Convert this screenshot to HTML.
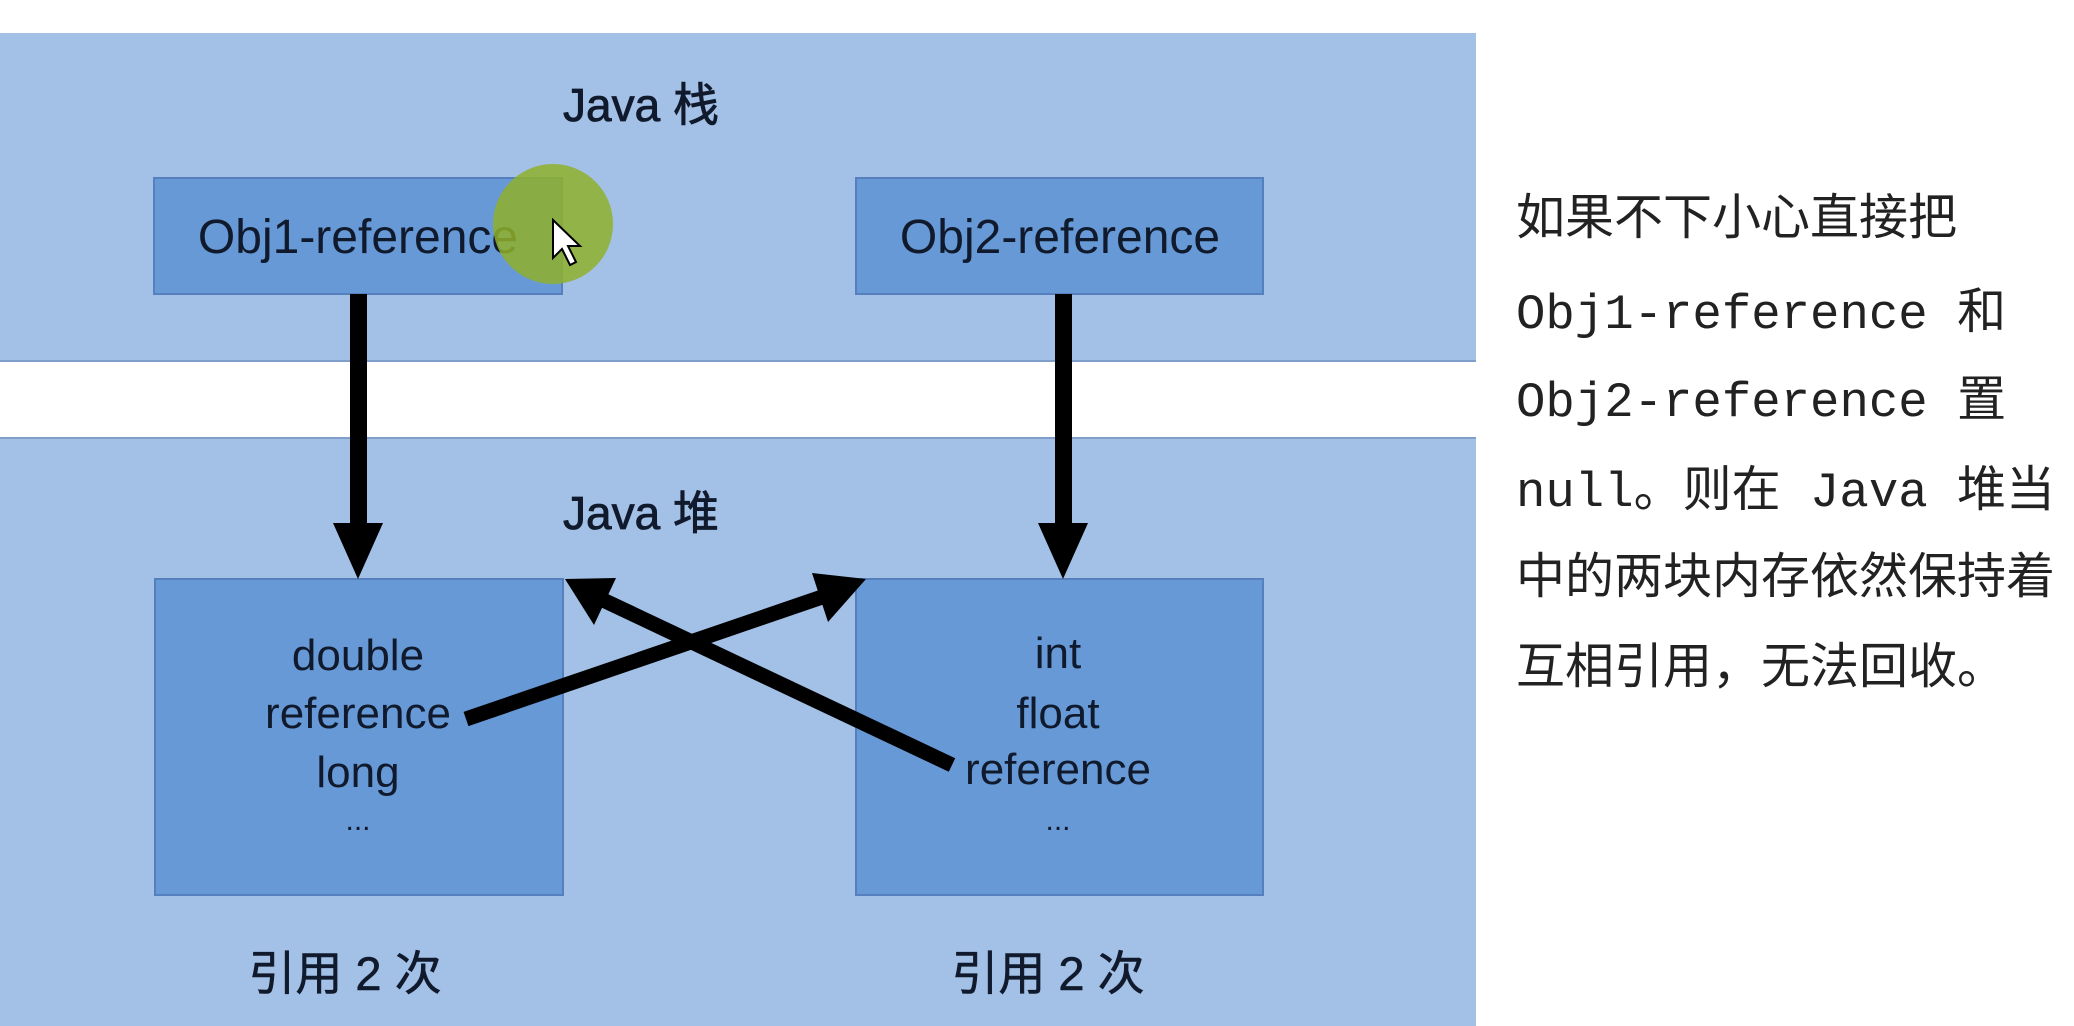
<!DOCTYPE html>
<html><head><meta charset="utf-8"><style>
html,body{margin:0;padding:0;background:#fff;}
svg{display:block;}
.s{font-family:"Liberation Sans","Noto Sans CJK SC",sans-serif;fill:#101a2c;}
.m{font-family:"Liberation Mono","Noto Sans CJK SC",monospace;font-size:49px;fill:#222;}
</style></head><body>
<svg width="2074" height="1026" viewBox="0 0 2074 1026" xmlns="http://www.w3.org/2000/svg">
<rect x="0" y="0" width="2074" height="1026" fill="#fff"/>
<rect x="0" y="33" width="1476" height="328" fill="#a3c0e6"/>
<line x1="0" y1="361" x2="1476" y2="361" stroke="#7f9fca" stroke-width="2"/>
<rect x="0" y="438" width="1476" height="588" fill="#a3c0e6"/>
<line x1="0" y1="438" x2="1476" y2="438" stroke="#7f9fca" stroke-width="2"/>

<text class="s" x="641" y="121" font-size="46" text-anchor="middle" stroke="#101a2c" stroke-width="0.8">Java 栈</text>
<text class="s" x="641" y="529" font-size="46" text-anchor="middle" stroke="#101a2c" stroke-width="0.8">Java 堆</text>

<rect x="154" y="178" width="408" height="116" fill="#6699d6" stroke="#5580bd" stroke-width="2"/>
<rect x="856" y="178" width="407" height="116" fill="#6699d6" stroke="#5580bd" stroke-width="2"/>
<text class="s" x="358" y="253" font-size="48" text-anchor="middle">Obj1-reference</text>
<text class="s" x="1060" y="253" font-size="48" text-anchor="middle">Obj2-reference</text>

<rect x="155" y="579" width="408" height="316" fill="#6699d6" stroke="#5580bd" stroke-width="2"/>
<rect x="856" y="579" width="407" height="316" fill="#6699d6" stroke="#5580bd" stroke-width="2"/>
<g class="s" font-size="44" text-anchor="middle">
<text x="358" y="670">double</text>
<text x="358" y="728">reference</text>
<text x="358" y="787">long</text>
<text x="358" y="830" font-size="30">...</text>
<text x="1058" y="668">int</text>
<text x="1058" y="728">float</text>
<text x="1058" y="784">reference</text>
<text x="1058" y="830" font-size="30">...</text>
<text x="345" y="990" font-size="47" stroke="#101a2c" stroke-width="0.6">引用 2 次</text>
<text x="1048" y="990" font-size="47" stroke="#101a2c" stroke-width="0.6">引用 2 次</text>
</g>

<g fill="#000" stroke="none">
<rect x="350" y="294" width="17" height="232"/>
<polygon points="333,523 383,523 358,579"/>
<rect x="1055" y="294" width="17" height="232"/>
<polygon points="1038,523 1088,523 1063,579"/>
</g>
<line x1="466" y1="719" x2="825" y2="596" stroke="#000" stroke-width="15"/>
<polygon points="866,579 812,573 828,622" fill="#000"/>
<line x1="952" y1="765" x2="603" y2="600" stroke="#000" stroke-width="15"/>
<polygon points="565,579 594,625 616,578" fill="#000"/>

<circle cx="553" cy="224" r="60" fill="#8fb02a" opacity="0.85"/>
<polygon points="553,220 553,258 562,249 570,265 576,262 568,246 580,246" fill="#fff" stroke="#000" stroke-width="2"/>

<text class="m" x="1516" y="234">如果不下小心直接把</text>
<text class="m" x="1516" y="328">Obj1-reference 和</text>
<text class="m" x="1516" y="416">Obj2-reference 置</text>
<text class="m" x="1516" y="506">null。则在 Java 堆当</text>
<text class="m" x="1516" y="593">中的两块内存依然保持着</text>
<text class="m" x="1516" y="683">互相引用，无法回收。</text>
</svg>
</body></html>
